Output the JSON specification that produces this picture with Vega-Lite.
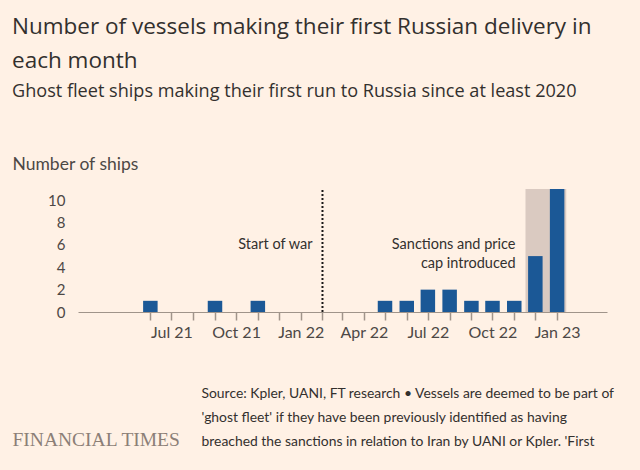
{
  "$schema": "https://vega.github.io/schema/vega-lite/v6.json",
  "width": 529,
  "height": 123,
  "autosize": "none",
  "padding": {"left": 78, "top": 189, "right": 33, "bottom": 158},
  "background": "#fff1e5",
  "config": {"view": {"stroke": null}, "font": "Lato", "axisX": {"ticks": true, "tickColor": "#a0948a", "tickWidth": 1.5, "tickSize": 8}},
  "title": {
    "text": ["Number of vessels making their first Russian delivery in", "each month"],
    "subtitle": "Ghost fleet ships making their first run to Russia since at least 2020",
    "anchor": "start",
    "frame": "group",
    "dx": -66,
    "offset": 54,
    "font": "Open Sans",
    "subtitleFont": "Open Sans",
    "fontSize": 22.5,
    "fontWeight": "normal",
    "color": "#33302e",
    "lineHeight": 34,
    "subtitleFontSize": 18.1,
    "subtitleColor": "#33302e",
    "subtitlePadding": 10
  },
  "datasets": {
    "ships": [
      {"date": "2021-06-01", "count": 1},
      {"date": "2021-09-01", "count": 1},
      {"date": "2021-11-01", "count": 1},
      {"date": "2022-05-01", "count": 1},
      {"date": "2022-06-01", "count": 1},
      {"date": "2022-07-01", "count": 2},
      {"date": "2022-08-01", "count": 2},
      {"date": "2022-09-01", "count": 1},
      {"date": "2022-10-01", "count": 1},
      {"date": "2022-11-01", "count": 1},
      {"date": "2022-12-01", "count": 5},
      {"date": "2023-01-01", "count": 11}
    ]
  },
  "encoding": {
    "x": {
      "field": "date",
      "type": "temporal",
      "scale": {
        "type": "utc",
        "padding": 0,
        "domain": [
          {"year": 2021, "month": 2, "date": 18, "utc": true},
          {"year": 2023, "month": 3, "date": 13, "utc": true}
        ]
      },
      "axis": {
        "values": [
          {"year": 2021, "month": 6, "date": 1, "utc": true},
          {"year": 2021, "month": 7, "date": 1, "utc": true},
          {"year": 2021, "month": 8, "date": 1, "utc": true},
          {"year": 2021, "month": 9, "date": 1, "utc": true},
          {"year": 2021, "month": 10, "date": 1, "utc": true},
          {"year": 2021, "month": 11, "date": 1, "utc": true},
          {"year": 2021, "month": 12, "date": 1, "utc": true},
          {"year": 2022, "month": 1, "date": 1, "utc": true},
          {"year": 2022, "month": 2, "date": 1, "utc": true},
          {"year": 2022, "month": 3, "date": 1, "utc": true},
          {"year": 2022, "month": 4, "date": 1, "utc": true},
          {"year": 2022, "month": 5, "date": 1, "utc": true},
          {"year": 2022, "month": 6, "date": 1, "utc": true},
          {"year": 2022, "month": 7, "date": 1, "utc": true},
          {"year": 2022, "month": 8, "date": 1, "utc": true},
          {"year": 2022, "month": 9, "date": 1, "utc": true},
          {"year": 2022, "month": 10, "date": 1, "utc": true},
          {"year": 2022, "month": 11, "date": 1, "utc": true},
          {"year": 2022, "month": 12, "date": 1, "utc": true},
          {"year": 2023, "month": 1, "date": 1, "utc": true}
        ],
        "labelExpr": "utcmonth(datum.value) % 3 == 0 ? utcFormat(datum.value, '%b %y') : ''",
        "labelOverlap": false,
        "labelFlush": false,
        "labelFontSize": 16,
        "labelPadding": 4,
        "labelColor": "#4d4845",
        "domainColor": "#a0948a",
        "grid": false,
        "title": [
          "Source: Kpler, UANI, FT research • Vessels are deemed to be part of",
          "'ghost fleet' if they have been previously identified as having",
          "breached the sanctions in relation to Iran by UANI or Kpler. 'First"
        ],
        "titleAnchor": "start",
        "titleAlign": "left",
        "titleX": 123,
        "titleY": 85,
        "titleBaseline": "alphabetic",
        "titleLineHeight": 24.3,
        "titleFontSize": 13.9,
        "titleFontWeight": "normal",
        "titleColor": "#33302e"
      }
    }
  },
  "resolve": {"axis": {"y": "independent"}},
  "layer": [
    {
      "data": {"values": [{"date": "2022-11-17", "end": "2023-01-14", "top": 11, "bottom": 0}]},
      "mark": {"type": "rect", "color": "#a2928d", "opacity": 0.4},
      "encoding": {
        "x2": {"field": "end"},
        "y": {"field": "top", "type": "quantitative", "axis": null},
        "y2": {"field": "bottom"}
      }
    },
    {
      "data": {"name": "ships"},
      "mark": {"type": "bar", "width": 14.5, "color": "#1b5896"},
      "encoding": {
        "y": {
          "field": "count",
          "type": "quantitative",
          "scale": {"domain": [0, 11], "nice": false},
          "axis": {
            "orient": "left",
            "values": [0, 2, 4, 6, 8, 10],
            "domain": false,
            "ticks": false,
            "labelPadding": 13,
            "labelFontSize": 15,
            "labelColor": "#4d4845",
            "gridColor": "#e6d8cc",
            "title": "Number of ships",
            "titleAngle": 0,
            "titleAlign": "left",
            "titleBaseline": "alphabetic",
            "titleX": -66,
            "titleY": -20,
            "titleFontSize": 17.5,
            "titleFontWeight": "normal",
            "titleColor": "#4d4845"
          }
        }
      }
    },
    {
      "data": {"values": [{"date": "2022-02-01", "lo": 0, "hi": 11}]},
      "mark": {"type": "rule", "color": "#1a1817", "strokeWidth": 2, "strokeDash": [2, 2]},
      "encoding": {
        "y": {
          "field": "lo",
          "type": "quantitative",
          "axis": {
            "orient": "right",
            "labels": false,
            "ticks": false,
            "domain": false,
            "grid": false,
            "title": "FINANCIAL TIMES",
            "titleAngle": 0,
            "titleAlign": "left",
            "titleBaseline": "alphabetic",
            "titleX": -595,
            "titleY": 256,
            "titleFont": "Liberation Serif",
            "titleFontSize": 19.5,
            "titleFontWeight": "normal",
            "titleColor": "#8c7f77"
          }
        },
        "y2": {"field": "hi"}
      }
    },
    {
      "data": {"values": [
        {"date": "2022-02-01", "y": 6, "label": ["Start of war"]},
        {"date": "2022-11-17", "y": 6, "label": ["Sanctions and price", "cap introduced"]}
      ]},
      "mark": {"type": "text", "align": "right", "baseline": "middle", "dx": -10, "fontSize": 14.5, "lineHeight": 19.5, "color": "#33302e"},
      "encoding": {
        "y": {"field": "y", "type": "quantitative", "axis": null},
        "text": {"field": "label"}
      }
    }
  ]
}
